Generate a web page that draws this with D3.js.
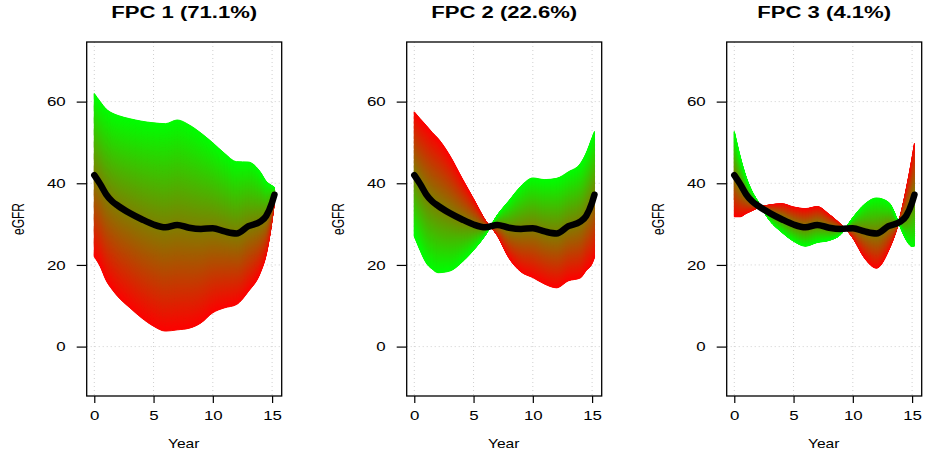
<!DOCTYPE html>
<html>
<head>
<meta charset="utf-8">
<script src="https://cdn.jsdelivr.net/npm/d3@7"></script>
<style>
  body { margin: 0; background: #fff; }
  text { font-family: "Liberation Sans", Arial, sans-serif; fill: #000; }
</style>
</head>
<body>
<div class="chart"></div>
<script>
// follow-up times (years) the curves were read at
var years = [0, 0.5, 1, 1.5, 2, 3, 4, 5, 6, 7, 8, 9, 10, 11, 12, 13, 14, 14.5, 15, 15.2];

// mean eGFR curve (same in all panels)
var meanEGFR = [42, 39.8, 37.3, 35.6, 34.5, 32.7, 31.2, 29.9, 29.2, 29.8, 29.1, 28.8, 29.0, 28.2, 27.7, 29.5, 30.6, 32.0, 35.3, 37.2];

// mean + c*FPC (green edge) and mean - c*FPC (red edge)
var fpc1Plus  = [62, 60, 58.2, 57.2, 56.6, 55.8, 55.2, 54.8, 54.6, 55.5, 54.3, 52.3, 49.9, 47.3, 45.3, 45.2, 42.8, 40.5, 39.4, 39.0];
var fpc1Minus = [22, 19.6, 16.2, 14, 12.2, 9.5, 7, 5, 3.8, 4.1, 4.5, 5.8, 8.3, 9.5, 10.3, 13.5, 18, 22.5, 31, 35.5];

var fpc2Plus  = [27, 23.5, 20.5, 19, 18.1, 18.5, 20.6, 23.6, 27.3, 32.2, 35.8, 39.3, 41.3, 40.9, 41.2, 42.8, 44.8, 47.4, 51.2, 52.7];
var fpc2Minus = [57.5, 55.8, 54.2, 52.5, 51, 46.8, 41.4, 36.2, 30.9, 27.2, 21.6, 18.3, 16.9, 15.3, 14.4, 16.1, 16.8, 18.6, 20.3, 21.8];

var fpc3Plus  = [52.7, 46.5, 41.5, 38, 35.5, 30.8, 28, 25.8, 24.6, 25.5, 26, 27.5, 31.6, 34.9, 36.4, 35.4, 29.3, 26.1, 24.5, 24.6];
var fpc3Minus = [31.8, 31.8, 32.6, 33.3, 34, 34.7, 35, 34.2, 33.8, 34.3, 32.4, 29.9, 26.6, 21.6, 19.2, 23.4, 31.9, 38.5, 46.3, 49.8];

var titles = ["FPC 1 (71.1%)", "FPC 2 (22.6%)", "FPC 3 (4.1%)"];
var xTicks = [0, 5, 10, 15];
var yTicks = [0, 20, 40, 60];

var panels = [
  {title: titles[0], plus: fpc1Plus, minus: fpc1Minus},
  {title: titles[1], plus: fpc2Plus, minus: fpc2Minus},
  {title: titles[2], plus: fpc3Plus, minus: fpc3Minus}
];

var svgWidth = 925;
var svgHeight = 452;
var stretch = 1.3;      // text in the picture is drawn wide
var boxWidth = 195;
var plotTop = 42, plotBottom = 396;
var nBands = 150;

var svg = d3.select(".chart")
  .append("svg")
  .attr("width", svgWidth)
  .attr("height", svgHeight);

svg.append("rect")
  .attr("width", svgWidth)
  .attr("height", svgHeight)
  .attr("fill", "#fff");

var ramp = d3.interpolateRgb("#ff0000", "#00ff00");

panels.forEach(function(p, i) {
  var left = 86.7 + i * 320;

  var x = d3.scaleLinear().domain([-0.64, 15.81]).range([left, left + boxWidth]);
  var y = d3.scaleLinear().domain([-12.1, 74.6]).range([plotBottom, plotTop]);

  var g = svg.append("g");

  // dotted grid
  g.selectAll(".vgrid")
    .data(xTicks)
    .enter()
    .append("line")
    .attr("x1", d => x(d)).attr("x2", d => x(d))
    .attr("y1", plotTop).attr("y2", plotBottom)
    .attr("stroke", "#cfcfcf")
    .attr("stroke-dasharray", "1,3");

  g.selectAll(".hgrid")
    .data(yTicks)
    .enter()
    .append("line")
    .attr("x1", left).attr("x2", left + boxWidth)
    .attr("y1", d => y(d)).attr("y2", d => y(d))
    .attr("stroke", "#cfcfcf")
    .attr("stroke-dasharray", "1,3");

  // red -> green band between the two edges
  var pts = years.map(function(t, j) {
    return {t: t, lo: p.minus[j], hi: p.plus[j]};
  });

  // whole band first in the middle colour so seams never show white
  g.append("path")
    .attr("d", d3.area().curve(d3.curveMonotoneX)
      .x(d => x(d.t)).y0(d => y(d.lo)).y1(d => y(d.hi))(pts))
    .attr("fill", ramp(0.5));

  for (var k = 0; k < nBands; k++) {
    var s0 = k / nBands;
    var s1 = (k + 1) / nBands;
    var col = ramp((k + 0.5) / nBands);
    var area = d3.area()
      .curve(d3.curveMonotoneX)
      .x(d => x(d.t))
      .y0(d => y(d.lo + s0 * (d.hi - d.lo)))
      .y1(d => y(d.lo + s1 * (d.hi - d.lo)));
    g.append("path")
      .attr("d", area(pts))
      .attr("fill", col)
      .attr("stroke", col)
      .attr("stroke-width", 1);
  }

  // mean curve
  var line = d3.line()
    .curve(d3.curveMonotoneX)
    .x((d, j) => x(years[j]))
    .y(d => y(d));

  g.append("path")
    .attr("d", line(meanEGFR))
    .attr("fill", "none")
    .attr("stroke", "#000")
    .attr("stroke-width", 6.5)
    .attr("stroke-linecap", "round")
    .attr("stroke-linejoin", "round");

  // box
  g.append("rect")
    .attr("x", left).attr("y", plotTop)
    .attr("width", boxWidth).attr("height", plotBottom - plotTop)
    .attr("fill", "none")
    .attr("stroke", "#000")
    .attr("stroke-width", 1.3);

  // axes
  var xAxis = g.append("g")
    .attr("transform", `translate(0, ${plotBottom})`)
    .call(d3.axisBottom(x).tickValues(xTicks).tickSize(7).tickSizeOuter(0).tickPadding(8));

  var yAxis = g.append("g")
    .attr("transform", `translate(${left}, 0)`)
    .call(d3.axisLeft(y).tickValues(yTicks).tickSize(10).tickSizeOuter(0).tickPadding(11));

  [xAxis, yAxis].forEach(function(ax) {
    ax.select(".domain").remove();
    ax.selectAll("line").attr("stroke", "#000").attr("stroke-width", 1.2);
    ax.selectAll("text")
      .attr("font-size", 13)
      .attr("font-family", "Liberation Sans, Arial, sans-serif")
      .attr("fill", "#000");
  });

  // widen tick labels about their anchor
  xAxis.selectAll("text")
    .attr("transform", `scale(${stretch},1)`);
  yAxis.selectAll("text").each(function() {
    var t = d3.select(this);
    var xx = +t.attr("x");
    t.attr("x", xx / stretch).attr("transform", `scale(${stretch},1)`);
  });

  // title
  svg.append("text")
    .attr("transform", `translate(${left + boxWidth / 2}, 18.3) scale(${stretch},1)`)
    .attr("text-anchor", "middle")
    .attr("font-size", 17)
    .attr("font-weight", "bold")
    .text(p.title);

  // axis titles
  svg.append("text")
    .attr("transform", `translate(${left + boxWidth / 2 - 0.5}, 448) scale(${stretch},1)`)
    .attr("text-anchor", "middle")
    .attr("font-size", 12)
    .text("Year");

  svg.append("text")
    .attr("transform", `translate(${left - 68.5}, 219) scale(${stretch},1) rotate(-90)`)
    .attr("text-anchor", "middle")
    .attr("dy", "0.35em")
    .attr("font-size", 12)
    .text("eGFR");
});
</script>
</body>
</html>
